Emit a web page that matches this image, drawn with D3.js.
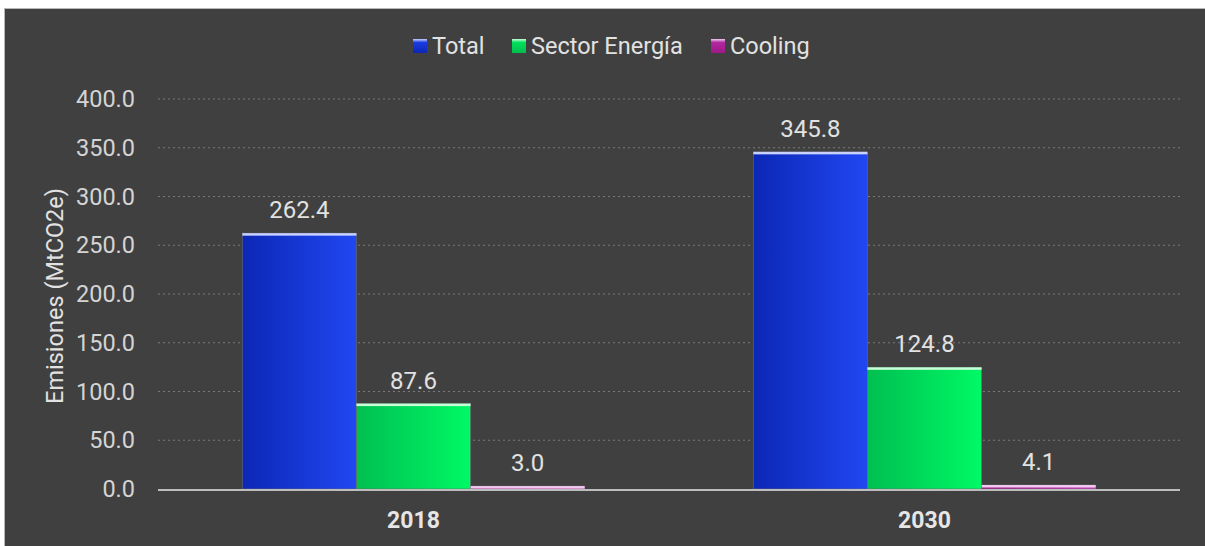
<!DOCTYPE html>
<html><head><meta charset="utf-8">
<script src="https://cdn.jsdelivr.net/npm/d3@7/dist/d3.min.js"></script>
<style>html,body{margin:0;padding:0;background:#fff;overflow:hidden}</style>
</head><body><svg id="c" width="1205" height="546"></svg>
<script>
const categories = ["2018", "2030"];
const seriesNames = ["Total", "Sector Energía", "Cooling"];
const totalValues = [262.4, 345.8];
const energyValues = [87.6, 124.8];
const coolingValues = [3.0, 4.1];
const yTicks = [0, 50, 100, 150, 200, 250, 300, 350, 400];
const seriesColors = [
  {dark:"#0b27b5", light:"#2147f2", top:"#c9d2ff", icon:"#1a3be0"},
  {dark:"#00bf50", light:"#00f966", top:"#c8ffd8", icon:"#00e05a"},
  {dark:"#a0188a", light:"#d040c0", top:"#f0c8f0", icon:"#b02a9e"}
];
const seriesValues = [totalValues, energyValues, coolingValues];

(function(){
const svg = d3.select("#c");
const W = 1205, H = 546;
svg.append("rect").attr("x",0).attr("y",0).attr("width",W).attr("height",H).attr("fill","#ffffff");
svg.append("rect").attr("x",4).attr("y",8).attr("width",W-4).attr("height",H-8).attr("fill","#b8b8b8");
svg.append("rect").attr("x",5).attr("y",9).attr("width",W-5).attr("height",H-9).attr("fill","#404040");

const defs = svg.append("defs");
seriesColors.forEach((c,i)=>{
  const g = defs.append("linearGradient").attr("id","g"+i).attr("x1","0").attr("x2","1").attr("y1","0").attr("y2","0");
  g.append("stop").attr("offset","0%").attr("stop-color",c.dark);
  g.append("stop").attr("offset","100%").attr("stop-color",c.light);
  const gi = defs.append("linearGradient").attr("id","gi"+i).attr("x1","0").attr("x2","0").attr("y1","0").attr("y2","1");
  gi.append("stop").attr("offset","0%").attr("stop-color",c.top);
  gi.append("stop").attr("offset","25%").attr("stop-color",c.icon);
  gi.append("stop").attr("offset","100%").attr("stop-color",c.dark);
});

const pL = 158, pR = 1180, pT = 99, pB = 489;
const y = d3.scaleLinear().domain([0,400]).range([pB, pT]);
const x0 = d3.scaleBand().domain(categories).range([pL,pR]).paddingInner(0).paddingOuter(0);
const groupW = x0.bandwidth()*0.67;
const x1 = d3.scaleBand().domain(seriesNames).range([0, groupW]).padding(0);

const font = "Roboto, 'Noto Sans', sans-serif";

const yAxis = d3.axisLeft(y).tickValues(yTicks).tickFormat(d3.format(".1f")).tickSize(0).tickPadding(23);
const ga = svg.append("g").attr("transform",`translate(${pL},0)`).call(yAxis);
ga.select(".domain").remove();
ga.selectAll("text").attr("fill","#d4d4d4").style("font-family",font).style("font-size","23.5px");
svg.append("g").selectAll("line").data(yTicks.filter(d=>d>0)).join("line")
  .attr("x1",pL).attr("x2",pR).attr("y1",d=>y(d)).attr("y2",d=>y(d))
  .attr("stroke","#7a7a7a").attr("stroke-width",1.2).attr("stroke-dasharray","2,3");

const groups = svg.append("g").selectAll("g").data(categories).join("g")
  .attr("transform",d=>`translate(${x0(d)+(x0.bandwidth()-groupW)/2},0)`);
groups.each(function(cat,ci){
  const g = d3.select(this);
  seriesNames.forEach((s,si)=>{
    const v = seriesValues[si][ci];
    const bx = x1(s), bw = x1.bandwidth();
    g.append("rect").attr("x",bx).attr("y",y(v)).attr("width",bw).attr("height",pB-y(v))
      .attr("fill",`url(#g${si})`).attr("stroke","#6a6a6a").attr("stroke-width",0.6);
    g.append("rect").attr("x",bx).attr("y",y(v)).attr("width",bw).attr("height",Math.min(2.5,pB-y(v)))
      .attr("fill",seriesColors[si].top);
    g.append("text").attr("x",bx+bw/2).attr("y",y(v)-15).attr("text-anchor","middle")
      .attr("fill","#e2e2e2").style("font-family",font).style("font-size","24px").text(v.toFixed(1));
  });
});

svg.append("line").attr("x1",pL).attr("x2",pR).attr("y1",pB+1).attr("y2",pB+1)
  .attr("stroke","#bdbdbd").attr("stroke-width",2);

const xAxis = d3.axisBottom(x0).tickSize(0).tickPadding(23);
const gx = svg.append("g").attr("transform",`translate(0,${pB})`).call(xAxis);
gx.select(".domain").remove();
gx.selectAll("text").attr("fill","#e6e6e6").style("font-family",font).style("font-size","23px").style("font-weight","bold");

svg.append("text").attr("transform",`translate(63,${(pT+pB)/2 + 2})  rotate(-90)`).attr("text-anchor","middle")
  .attr("fill","#e2e2e2").style("font-family",font).style("font-size","23.5px").text("Emisiones (MtCO2e)");

const legendX = [413, 512, 711];
const lg = svg.append("g").selectAll("g").data(seriesNames).join("g")
  .attr("transform",(d,i)=>`translate(${legendX[i]},39)`);
lg.append("rect").attr("width",14).attr("height",14).attr("fill",(d,i)=>`url(#gi${i})`);
lg.append("text").attr("x",19).attr("y",15).attr("fill","#e2e2e2").style("font-family",font).style("font-size","23.5px").text(d=>d);
})();
</script></body></html>
